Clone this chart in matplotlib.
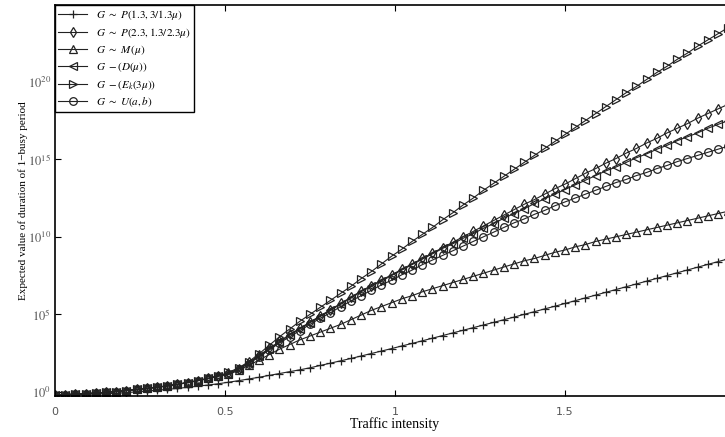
import numpy as np
import matplotlib
matplotlib.use("Agg")
import matplotlib.pyplot as plt

plt.rcParams['mathtext.fontset'] = 'stix'

# traffic intensity grid (step 0.03)
rho = np.round(np.arange(0, 67) * 0.03, 2)

# log10 of expected busy period duration
start = [-0.2, -0.18, -0.15, -0.12, -0.08, -0.03, 0.02, 0.08, 0.15, 0.22,
         0.3, 0.38, 0.48, 0.6, 0.72, 0.86, 1.02]

p13 = [-0.2, -0.19, -0.18, -0.16, -0.14, -0.12, -0.09, -0.05, 0.0, 0.05,
       0.1, 0.16, 0.22, 0.29, 0.36, 0.44, 0.52,
       0.62, 0.72, 0.83, 0.94, 1.06, 1.18, 1.3, 1.42, 1.55, 1.7,
       1.85, 2.0, 2.15, 2.31, 2.47, 2.63, 2.79, 2.96, 3.12, 3.29,
       3.46, 3.63, 3.8, 3.97, 4.14, 4.31, 4.48, 4.65, 4.82, 5.0,
       5.17, 5.35, 5.52, 5.7, 5.88, 6.06, 6.24, 6.42, 6.6, 6.78,
       6.96, 7.14, 7.32, 7.5, 7.68, 7.86, 8.04, 8.22, 8.4, 8.58]

p23 = start + [1.2, 1.5, 1.9, 2.35, 2.8, 3.25, 3.7, 4.1, 4.5, 4.9,
               5.3, 5.7, 6.1, 6.5, 6.85, 7.2, 7.55, 7.9, 8.25, 8.6,
               8.95, 9.3, 9.65, 10.0, 10.35, 10.7, 11.05, 11.4, 11.75, 12.1,
               12.4, 12.75, 13.1, 13.4, 13.75, 14.1, 14.4, 14.75, 15.05, 15.4,
               15.7, 16.05, 16.35, 16.7, 17.0, 17.3, 17.65, 17.95, 18.25, 18.55]

m_mu = start + [1.12, 1.38, 1.7, 2.05, 2.4, 2.75, 3.05, 3.35, 3.6, 3.85,
                4.1, 4.35, 4.65, 4.95, 5.25, 5.5, 5.75, 6.0, 6.2, 6.45,
                6.65, 6.85, 7.05, 7.25, 7.45, 7.65, 7.85, 8.05, 8.25, 8.45,
                8.6, 8.8, 9.0, 9.15, 9.35, 9.5, 9.7, 9.85, 10.0, 10.15,
                10.3, 10.45, 10.6, 10.75, 10.9, 11.05, 11.2, 11.35, 11.5, 11.65]

d_mu = start + [1.18, 1.48, 1.85, 2.3, 2.75, 3.2, 3.65, 4.05, 4.45, 4.85,
                5.25, 5.65, 6.05, 6.45, 6.8, 7.15, 7.5, 7.85, 8.2, 8.55,
                8.9, 9.25, 9.55, 9.9, 10.2, 10.55, 10.85, 11.2, 11.5, 11.8,
                12.15, 12.45, 12.75, 13.05, 13.35, 13.65, 13.95, 14.25, 14.5, 14.8,
                15.1, 15.35, 15.65, 15.9, 16.2, 16.45, 16.7, 17.0, 17.25, 17.5]

ek = start + [1.25, 1.55, 1.95, 2.45, 3.0, 3.55, 4.05, 4.55, 5.0, 5.45,
              5.9, 6.35, 6.8, 7.3, 7.75, 8.25, 8.75, 9.2, 9.7, 10.15,
              10.6, 11.1, 11.55, 12.05, 12.5, 13.0, 13.45, 13.9, 14.35, 14.8,
              15.25, 15.7, 16.15, 16.6, 17.05, 17.5, 17.95, 18.4, 18.85, 19.3,
              19.7, 20.15, 20.6, 21.0, 21.45, 21.85, 22.3, 22.7, 23.1, 23.5]

unif = start + [1.15, 1.45, 1.82, 2.25, 2.7, 3.15, 3.55, 3.95, 4.35, 4.75,
                5.1, 5.5, 5.85, 6.2, 6.55, 6.9, 7.2, 7.55, 7.85, 8.2,
                8.5, 8.8, 9.1, 9.4, 9.7, 10.0, 10.3, 10.6, 10.9, 11.15,
                11.45, 11.7, 12.0, 12.25, 12.5, 12.75, 13.0, 13.25, 13.5, 13.7,
                13.95, 14.15, 14.4, 14.6, 14.85, 15.05, 15.25, 15.45, 15.65, 15.85]

series = [p13, p23, m_mu, d_mu, ek, unif]
markers = ['+', 'd', '^', '<', '>', 'o']
labels = [r"$G\ \sim\ P(1.3,3/1.3\mu)$",
          r"$G\ \sim\ P(2.3,1.3/2.3\mu)$",
          r"$G\ \sim\ M\,(\mu)$",
          r"$G\ -(D(\mu))$",
          r"$G\ -(E_k(3\mu))$",
          r"$G\ \sim\ U(a,b)$"]

fig = plt.figure(figsize=(7.25, 4.37), dpi=100)
ax = fig.add_axes([0.0759, 0.0938, 0.938, 0.8947])

for vals, mk, lab in zip(series, markers, labels):
    ax.semilogy(rho, 10 ** np.array(vals), color='#222222', lw=0.8,
                marker=mk, markersize=5.5, markerfacecolor='none',
                markeredgecolor='#222222', markeredgewidth=0.9, label=lab)

ax.set_xlim(0, 2)
ax.set_ylim(10 ** -0.27, 10 ** 24.95)
ax.set_xticks([0, 0.5, 1, 1.5, 2])
ax.set_xticklabels(['0', '0.5', '1', '1.5', ''])
ax.set_yticks([1e0, 1e5, 1e10, 1e15, 1e20])
ax.set_yticklabels([r"$10^{0}$", r"$10^{5}$", r"$10^{10}$", r"$10^{15}$", r"$10^{20}$"])
ax.minorticks_off()
ax.tick_params(direction='in', top=True, right=True, length=4, width=0.8,
               colors='black', labelcolor='#555555')
ax.tick_params(axis='x', labelsize=8, pad=8)
ax.tick_params(axis='y', labelsize=9, pad=3)
for s in ax.spines.values():
    s.set_linewidth(1.2)

ax.set_xlabel("Traffic intensity", family='Liberation Serif', fontsize=10, labelpad=0)
ax.set_ylabel("Expected value of duration of 1\u2212busy period",
              family='Liberation Serif', fontsize=8, labelpad=0)

leg = ax.legend(loc='upper left', borderaxespad=0, fancybox=False,
                edgecolor='black', framealpha=1, fontsize=8,
                handlelength=2.6, labelspacing=0.3, borderpad=0.3)
leg.get_frame().set_linewidth(1.0)

fig.savefig("out.png", dpi=100)
